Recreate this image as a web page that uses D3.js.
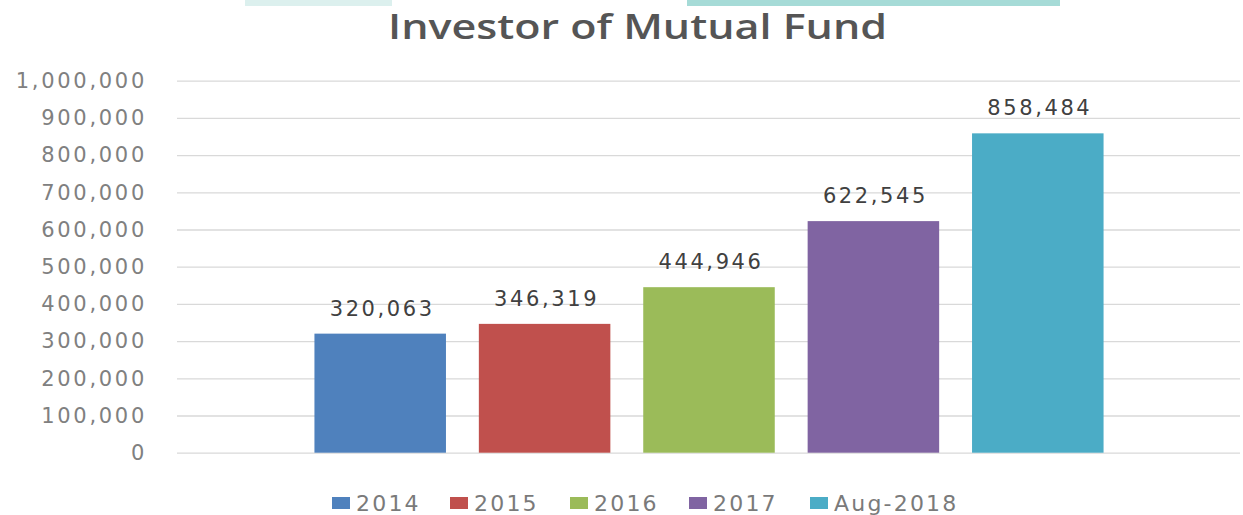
<!DOCTYPE html>
<html>
<head>
<meta charset="utf-8">
<script src="https://cdn.jsdelivr.net/npm/d3@7"></script>
<style>
  body { margin: 0; background: #fff; }
  svg { display: block; }
  .tick-label { font-family: 'DejaVu Sans', sans-serif; font-size: 21px; fill: #808080; letter-spacing: 2.7px; }
  .value-label { font-family: 'DejaVu Sans', sans-serif; font-size: 21px; fill: #404040; letter-spacing: 2.6px; }
  .legend-text { font-family: 'DejaVu Sans', sans-serif; font-size: 22px; fill: #7a7a7a; letter-spacing: 2.2px; }
  .title { font-family: 'Open Sans', sans-serif; font-weight: 600; font-size: 35px; fill: #555; }
</style>
</head>
<body>
<script>
// chart data
const series = ['2014', '2015', '2016', '2017', 'Aug-2018'];
const investors = [320063, 346319, 444946, 622545, 858484];
const colors = ['#4f81bd', '#c0504d', '#9bbb59', '#8064a2', '#4bacc6'];
const yTicks = [0, 100000, 200000, 300000, 400000, 500000, 600000, 700000, 800000, 900000, 1000000];

const WIDTH = 1243, HEIGHT = 515;
const fmt = d3.format(',');

const svg = d3.select('body')
  .append('svg')
  .attr('xmlns', 'http://www.w3.org/2000/svg')
  .attr('width', WIDTH)
  .attr('height', HEIGHT);

// the two teal strips cut off at the top of the picture
svg.append('rect').attr('x', 245).attr('y', 0).attr('width', 147).attr('height', 6).attr('fill', '#dcf0ee');
svg.append('rect').attr('x', 687).attr('y', 0).attr('width', 373).attr('height', 6).attr('fill', '#a6dbd7');

// scales
const y = d3.scaleLinear()
  .domain([0, 1000000])
  .range([452.7, 80.7]);

const x = d3.scaleBand()
  .domain(series)
  .range([298, 1120])
  .paddingInner(0.2)
  .paddingOuter(0.1);

// gridlines + tick labels through a left axis
const axis = d3.axisLeft(y)
  .tickValues(yTicks)
  .tickFormat(fmt)
  .tickSize(-(1240 - 177))
  .tickPadding(30);

const axisG = svg.append('g')
  .attr('transform', 'translate(177,0)')
  .call(axis);

axisG.select('.domain').remove();
axisG.selectAll('.tick line')
  .attr('stroke', '#d9d9d9')
  .attr('stroke-width', 1.3);
axisG.selectAll('.tick text')
  .attr('class', 'tick-label')
  .attr('fill', null);
axisG.attr('font-size', null).attr('font-family', null);

// bars
const data = series.map((s, i) => ({ name: s, value: investors[i], color: colors[i] }));

svg.append('g')
  .selectAll('rect')
  .data(data)
  .enter()
  .append('rect')
  .attr('x', d => x(d.name))
  .attr('y', d => y(d.value))
  .attr('width', x.bandwidth())
  .attr('height', d => y(0) - y(d.value))
  .attr('fill', d => d.color);

// value labels above each bar
svg.append('g')
  .selectAll('text')
  .data(data)
  .enter()
  .append('text')
  .attr('class', 'value-label')
  .attr('text-anchor', 'middle')
  .attr('x', d => x(d.name) + x.bandwidth() / 2 + 2)
  .attr('y', d => y(d.value) - 18)
  .text(d => fmt(d.value));

// title
svg.append('text')
  .attr('class', 'title')
  .attr('x', 388)
  .attr('y', 39)
  .attr('textLength', 499)
  .attr('lengthAdjust', 'spacingAndGlyphs')
  .text('Investor of Mutual Fund');

// legend
const legendX = [332, 450, 570, 689, 810];
const legend = svg.append('g')
  .selectAll('g')
  .data(data)
  .enter()
  .append('g')
  .attr('transform', (d, i) => 'translate(' + legendX[i] + ',497)');

legend.append('rect')
  .attr('width', 18)
  .attr('height', 12)
  .attr('fill', d => d.color);

legend.append('text')
  .attr('class', 'legend-text')
  .attr('x', 24)
  .attr('y', 14)
  .text(d => d.name);
</script>
</body>
</html>
